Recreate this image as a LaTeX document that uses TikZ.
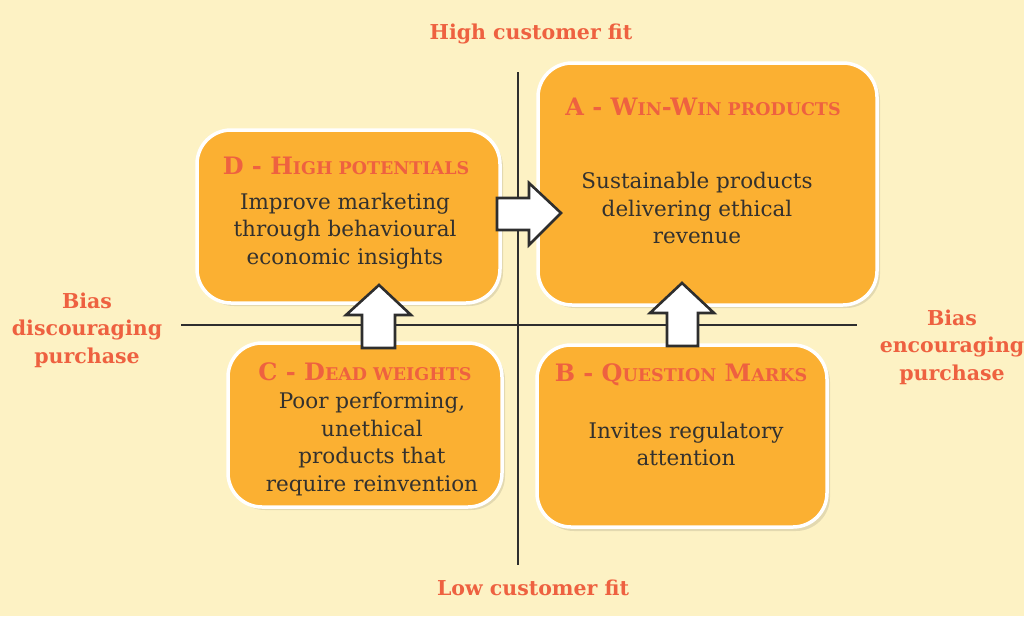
\documentclass[tikz,border=0pt]{standalone}
\usepackage{fontspec}
\setmainfont{DejaVu Serif}
\definecolor{bgc}{HTML}{FDF2C4}
\definecolor{boxc}{HTML}{FBB032}
\definecolor{titc}{HTML}{EE6140}
\definecolor{txtc}{HTML}{33312E}
\definecolor{linec}{HTML}{2E2E2E}
\newcommand\smc[1]{{\fontsize{17.5}{17.5}\selectfont\uppercase{#1}}}
\begin{document}
\begin{tikzpicture}[x=1pt,y=-1pt,
  quad/.style={draw=white,line width=3.5pt,fill=boxc,rounded corners=34pt},
  shadowbox/.style={fill=black,opacity=0.10,rounded corners=34pt},
  ttl/.style={text=titc,font=\fontsize{24}{24}\selectfont\bfseries,inner sep=0pt},
  body/.style={text=txtc,font=\fontsize{21.5}{27.5}\selectfont,align=center,inner sep=0pt},
  axlab/.style={text=titc,font=\fontsize{20.5}{27.5}\selectfont\bfseries,align=center,inner sep=0pt},
  axis/.style={draw=linec,line width=2pt},
  blockarrow/.style={draw=linec,line width=2.6pt,fill=white,line join=miter}]
\useasboundingbox (0,0) rectangle (1024,616);
\fill[bgc] (0,0) rectangle (1024,616);
% axes
\coordinate (vtop) at (518,72);
\coordinate (vbot) at (518,565);
\coordinate (hl) at (181,325);
\coordinate (hr) at (857,325);
\draw[axis] (vtop) -- (vbot);
\draw[axis] (hl) -- (hr);
% shadows
\fill[shadowbox] (200,133) rectangle (503,306);
\fill[shadowbox] (541,66) rectangle (880,308);
\fill[shadowbox] (231,346) rectangle (505,510);
\fill[shadowbox] (540,348) rectangle (830,531);
% boxes
\draw[quad] (197,130) rectangle (500,303) node[pos=0.5] (D) {};
\draw[quad] (538,63) rectangle (877,305) node[pos=0.5] (A) {};
\draw[quad] (228,343) rectangle (502,507) node[pos=0.5] (C) {};
\draw[quad] (537,345) rectangle (827,527) node[pos=0.5] (B) {};
% titles
\node[ttl] (Dt) at (346,166) {D - H\smc{igh potentials}};
\node[ttl] (At) at (703,107) {A - W\smc{in}-W\smc{in products}};
\node[ttl] (Ct) at (365,372) {C - D\smc{ead weights}};
\node[ttl] (Bt) at (681,375) {B - Q\smc{uestion} M\smc{arks}};
% bodies
\node[body] (Db) at (345,231) {Improve marketing\\through behavioural\\economic insights};
\node[body] (Ab) at (697,208) {Sustainable products\\delivering ethical\\revenue};
\node[body] (Cb) at (372,444) {Poor performing,\\unethical\\products that\\require reinvention};
\node[body] (Bb) at (686,444) {Invites regulatory\\attention};
% axis labels
\node[axlab] (hi) at (531,34) {High customer fit};
\node[axlab] (lo) at (533,588) {Low customer fit};
\node[axlab] (dis) at (87,330) {Bias\\discouraging\\purchase};
\node[axlab] (enc) at (952,347) {Bias\\encouraging\\purchase};
% block arrows
\draw[blockarrow] (497,198) -- (529,198) -- (529,183) -- (561,213) -- (529,245) -- (529,230) -- (497,230) -- cycle;
\draw[blockarrow] (362,348) -- (362,315) -- (346,315) -- (379,285) -- (411,315) -- (395,315) -- (395,348) -- cycle;
\draw[blockarrow] (667,346) -- (667,313) -- (650,313) -- (682,283) -- (714,313) -- (698,313) -- (698,346) -- cycle;
\end{tikzpicture}
\end{document}
